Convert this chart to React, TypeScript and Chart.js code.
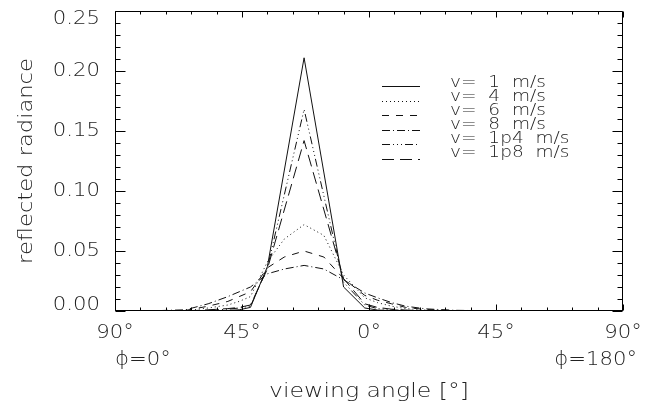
import React, { useEffect, useRef } from "react";
import { Chart, registerables } from "chart.js";
Chart.register(...registerables);

// viewing angle in degrees: negative = phi 0° side, positive = phi 180° side
const angles = [-90, -75, -65, -57, -50, -46, -42, -36, -30, -23, -16, -9, -1.5, 3, 8, 13, 20, 30, 45, 60, 75, 90];
// null = no sample at that angle for this series (line drawn straight across)
const r1 = [0, 0, 0, 0, 0.0005, 0.001, 0.003, 0.037, null, 0.211, null, 0.02, 0.0025, 0.0008, 0.0003, 0, 0, 0, 0, 0, 0, 0];
const r4 = [0, 0, 0.0002, 0.0025, 0.005, 0.008, 0.012, 0.041, 0.06, 0.072, 0.063, 0.03, 0.011, 0.007, 0.004, 0.002, 0.0008, 0.0002, 0, 0, 0, 0];
const r6 = [0, 0.0001, 0.0005, 0.004, 0.008, 0.012, 0.016, 0.036, 0.045, 0.05, 0.045, 0.027, 0.013, 0.009, 0.006, 0.003, 0.0012, 0.0004, 0, 0, 0, 0];
const r8 = [0, 0.0003, 0.001, 0.006, 0.012, 0.016, 0.02, 0.031, 0.035, 0.038, 0.035, 0.026, 0.015, 0.011, 0.007, 0.004, 0.0018, 0.0006, 0.0001, 0, 0, 0];
const r1p4 = [0, 0, 0, 0.0005, 0.0015, 0.0025, 0.004, 0.036, null, 0.168, null, 0.024, 0.005, 0.002, 0.001, 0.0005, 0.0001, 0, 0, 0, 0, 0];
const r1p8 = [0, 0, 0, 0.001, 0.002, 0.003, 0.005, 0.035, null, 0.142, null, 0.027, 0.006, 0.003, 0.0015, 0.0008, 0.0002, 0, 0, 0, 0, 0];

const seriesValues = [r1, r4, r6, r8, r1p4, r1p8];
const seriesLabels = ["v=  1  m/s", "v=  4  m/s", "v=  6  m/s", "v=  8  m/s", "v=  1p4  m/s", "v=  1p8  m/s"];
const seriesDashes = [[], [1, 3], [7, 7], [8, 3, 1, 3], [8, 3, 1, 3, 1, 3, 1, 3], [12, 6]];

const xTickValues = [-90, -45, 0, 45, 90];
const xTickLabels = ["90°", "45°", "0°", "45°", "90°"];
const yTickValues = [0, 0.05, 0.1, 0.15, 0.2, 0.25];
const yTickLabels = ["0.00", "0.05", "0.10", "0.15", "0.20", "0.25"];
const xTitle = "viewing angle [°]";
const yTitle = "reflected radiance";
const phiLeft = "ϕ=0°";
const phiRight = "ϕ=180°";

const FONT = '"DejaVu Sans", sans-serif';
const TEXT_COLOR = "#222";
const LINE_COLOR = "#111";

function drawText(ctx: CanvasRenderingContext2D, s: string, x: number, y: number, size: number, align: CanvasTextAlign, sx: number, baseline: CanvasTextBaseline = "middle", rot = 0) {
  ctx.save();
  ctx.font = `200 ${size}px ${FONT}`;
  ctx.fillStyle = TEXT_COLOR;
  ctx.translate(x, y);
  if (rot) ctx.rotate(rot);
  ctx.scale(sx, 1);
  ctx.textAlign = align;
  ctx.textBaseline = baseline;
  ctx.fillText(s, 0, 0);
  ctx.restore();
}

const overlay = {
  id: "idlOverlay",
  afterDraw(chart: any) {
    const { ctx, chartArea: a, scales } = chart;
    const xs = scales.x;
    const ys = scales.y;
    ctx.save();
    ctx.strokeStyle = "#000";
    ctx.lineWidth = 1;
    ctx.setLineDash([]);
    const L = Math.round(a.left) + 0.5;
    const R = Math.round(a.right) - 0.5;
    const T = Math.round(a.top) + 0.5;
    const B = Math.round(a.bottom) - 0.5;
    ctx.beginPath();
    ctx.rect(L, T, R - L, B - T);
    ctx.stroke();
    ctx.beginPath();
    for (let v = -90; v <= 90; v += 9) {
      const px = Math.round(xs.getPixelForValue(v)) + 0.5;
      const major = v % 45 === 0;
      const len = major ? 6 : 3;
      ctx.moveTo(px, B);
      ctx.lineTo(px, B - len);
      ctx.moveTo(px, T);
      ctx.lineTo(px, T + len);
    }
    for (let k = 0; k <= 25; k++) {
      const py = Math.round(ys.getPixelForValue(k * 0.01)) + 0.5;
      const major = k % 5 === 0;
      const len = major ? 10 : 5;
      ctx.moveTo(L, py);
      ctx.lineTo(L + len, py);
      ctx.moveTo(R, py);
      ctx.lineTo(R - len, py);
    }
    ctx.stroke();

    yTickValues.forEach((v, i) => {
      let py = ys.getPixelForValue(v);
      py = Math.min(Math.max(py, a.top + 8), a.bottom - 6);
      drawText(ctx, yTickLabels[i], a.left - 15, py, 20, "right", 1.06);
    });
    xTickValues.forEach((v, i) => {
      const px = xs.getPixelForValue(v);
      drawText(ctx, xTickLabels[i], px, 333, 20, "center", 1.06);
    });
    drawText(ctx, phiLeft, a.left, 360, 20, "left", 1.06);
    drawText(ctx, phiRight, a.right + 14, 360, 20, "right", 1.06);
    drawText(ctx, xTitle, (a.left + a.right) / 2, 392, 20, "center", 1.18);
    drawText(ctx, yTitle, 27, (a.top + a.bottom) / 2, 20, "center", 1.13, "middle", -Math.PI / 2);

    seriesLabels.forEach((lab, i) => {
      const ly = Math.round(86 + 14.5 * i) + 0.5;
      ctx.save();
      ctx.strokeStyle = LINE_COLOR;
      ctx.lineWidth = 1;
      ctx.setLineDash(seriesDashes[i]);
      ctx.beginPath();
      ctx.moveTo(382, ly);
      ctx.lineTo(420, ly);
      ctx.stroke();
      ctx.restore();
      drawText(ctx, lab, 450, 87 + 14 * i, 16, "left", 1.16, "alphabetic");
    });
    ctx.restore();
  },
};

export default function App() {
  const ref = useRef<HTMLCanvasElement | null>(null);
  useEffect(() => {
    if (!ref.current) return;
    const chart = new Chart(ref.current, {
      type: "line",
      data: {
        datasets: seriesValues.map((vals, si) => ({
          label: seriesLabels[si],
          data: angles.map((ang, i) => ({ x: ang, y: vals[i] })),
          borderColor: LINE_COLOR,
          borderWidth: 1,
          borderDash: seriesDashes[si],
          pointRadius: 0,
          tension: 0,
          fill: false,
          spanGaps: true,
        })),
      },
      options: {
        animation: false,
        responsive: false,
        devicePixelRatio: 1,
        layout: { padding: { top: 11, right: 30, left: 0, bottom: 0 } },
        plugins: { legend: { display: false }, tooltip: { enabled: false } },
        scales: {
          x: {
            type: "linear",
            min: -90,
            max: 90,
            grid: { display: false, drawTicks: false },
            border: { display: false },
            ticks: { display: false },
            afterFit: (s: any) => {
              s.height = 99;
            },
          },
          y: {
            type: "linear",
            min: 0,
            max: 0.25,
            grid: { display: false, drawTicks: false },
            border: { display: false },
            ticks: { display: false },
            afterFit: (s: any) => {
              s.width = 115;
            },
          },
        },
      },
      plugins: [overlay],
    });
    return () => chart.destroy();
  }, []);
  return (
    <div style={{ position: "absolute", left: 0, top: 0, width: 653, height: 410, background: "#fff" }}>
      <canvas ref={ref} width={653} height={410} style={{ width: 653, height: 410, display: "block" }} />
    </div>
  );
}
